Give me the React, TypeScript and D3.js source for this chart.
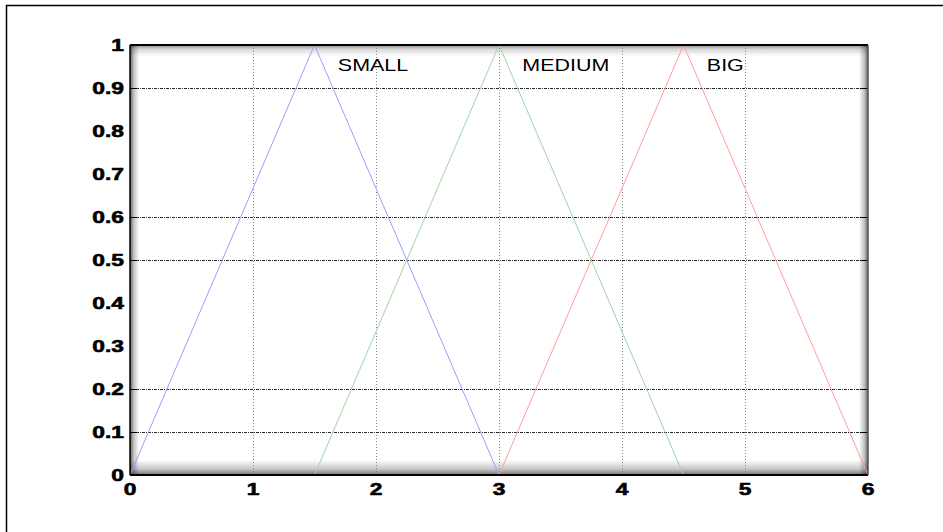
import React from "react";
import * as d3 from "d3";

// Triangular membership functions, each as [x, membership] vertices
const smallPts: [number, number][] = [[0, 0], [1.5, 1], [3, 0]];
const mediumPts: [number, number][] = [[1.5, 0], [3, 1], [4.5, 0]];
const bigPts: [number, number][] = [[3, 0], [4.5, 1], [6, 0]];

const setNames = ["SMALL", "MEDIUM", "BIG"];
const setPeaks = [1.5, 3, 4.5];

const xTicks = [0, 1, 2, 3, 4, 5, 6];
const yTicks = [0, 0.1, 0.2, 0.3, 0.4, 0.5, 0.6, 0.7, 0.8, 0.9, 1];
const yTickLabels = ["0", "0.1", "0.2", "0.3", "0.4", "0.5", "0.6", "0.7", "0.8", "0.9", "1"];
// horizontal grid lines that are drawn
const yGridLines = [0.1, 0.2, 0.5, 0.6, 0.9];
const xGridLines = [1, 2, 3, 4, 5];

const W = 943;
const H = 532;
const left = 130;
const right = 868;
const top = 45;
const bottom = 475;
const STRETCH = 1.34;

export default function App() {
  const x = d3.scaleLinear().domain([0, 6]).range([left, right]);
  const y = d3.scaleLinear().domain([0, 1]).range([bottom, top]);
  const line = d3
    .line<[number, number]>()
    .x((d) => x(d[0]))
    .y((d) => y(d[1]));

  const series = [
    { pts: smallPts, color: "#9c9cff" },
    { pts: mediumPts, color: "#a3d3a3" },
    { pts: bigPts, color: "#ff9c9c" },
  ];

  const tickFont = "'Liberation Sans', Arial, sans-serif";

  return (
    <svg
      width={W}
      height={H}
      style={{ position: "fixed", left: 0, top: 0, background: "#fff" }}
    >
      <defs>
        <linearGradient id="shL" x1="0" x2="1" y1="0" y2="0">
          <stop offset="0" stopColor="#000" stopOpacity={0.62} />
          <stop offset="0.4" stopColor="#000" stopOpacity={0.25} />
          <stop offset="1" stopColor="#000" stopOpacity={0} />
        </linearGradient>
        <linearGradient id="shR" x1="1" x2="0" y1="0" y2="0">
          <stop offset="0" stopColor="#000" stopOpacity={0.6} />
          <stop offset="0.4" stopColor="#000" stopOpacity={0.25} />
          <stop offset="1" stopColor="#000" stopOpacity={0} />
        </linearGradient>
        <linearGradient id="shT" x1="0" x2="0" y1="0" y2="1">
          <stop offset="0" stopColor="#000" stopOpacity={0.45} />
          <stop offset="0.4" stopColor="#000" stopOpacity={0.15} />
          <stop offset="1" stopColor="#000" stopOpacity={0} />
        </linearGradient>
        <linearGradient id="shB" x1="0" x2="0" y1="1" y2="0">
          <stop offset="0" stopColor="#000" stopOpacity={0.55} />
          <stop offset="0.4" stopColor="#000" stopOpacity={0.22} />
          <stop offset="1" stopColor="#000" stopOpacity={0} />
        </linearGradient>
      </defs>

      {/* outer frame */}
      <line x1={6} x2={W + 2} y1={5.5} y2={5.5} stroke="#000" strokeWidth={1.5} />
      <line x1={6.5} x2={6.5} y1={5} y2={H + 2} stroke="#000" strokeWidth={1.5} />

      {/* plot background and inner shading */}
      <rect x={left} y={top} width={right - left} height={bottom - top} fill="#fff" />
      <rect x={left} y={top} width={9} height={bottom - top} fill="url(#shL)" />
      <rect x={right - 9} y={top} width={9} height={bottom - top} fill="url(#shR)" />
      <rect x={left} y={top} width={right - left} height={11} fill="url(#shT)" />
      <rect x={left} y={bottom - 15} width={right - left} height={15} fill="url(#shB)" />

      {/* vertical grid */}
      {xGridLines.map((v) => (
        <line
          key={"vx" + v}
          x1={Math.round(x(v)) + 0.5}
          x2={Math.round(x(v)) + 0.5}
          y1={top}
          y2={bottom}
          stroke="#8a8a8a"
          strokeWidth={1}
          strokeDasharray="1,2"
        />
      ))}

      {/* horizontal grid with tick marks at both ends */}
      {yGridLines.map((v) => (
        <g key={"hy" + v}>
          <line
            x1={left}
            x2={right}
            y1={Math.round(y(v)) + 0.5}
            y2={Math.round(y(v)) + 0.5}
            stroke="#2a2a2a"
            strokeWidth={1}
            strokeDasharray="3,1,1,1"
          />
          <line
            x1={left}
            x2={left + 7}
            y1={Math.round(y(v)) + 0.5}
            y2={Math.round(y(v)) + 0.5}
            stroke="#000"
          />
          <line
            x1={right - 8}
            x2={right}
            y1={Math.round(y(v)) + 0.5}
            y2={Math.round(y(v)) + 0.5}
            stroke="#000"
          />
        </g>
      ))}

      {/* membership functions */}
      {series.map((s, i) => (
        <path key={i} d={line(s.pts) || ""} fill="none" stroke={s.color} strokeWidth={1} />
      ))}

      {/* set names */}
      {setNames.map((name, i) => {
        const tx = x(setPeaks[i] + 0.19);
        const ty = y(0.94);
        return (
          <text
            key={name}
            transform={`translate(${tx},${ty}) scale(${STRETCH},1)`}
            fontFamily={tickFont}
            fontSize={16}
            fill="#000"
          >
            {name}
          </text>
        );
      })}

      {/* plot frame */}
      <line x1={left} x2={right} y1={top} y2={top} stroke="#000" strokeWidth={2} />
      <line x1={left} x2={right} y1={bottom} y2={bottom} stroke="#000" strokeWidth={2} />
      <line x1={left} x2={left} y1={top} y2={bottom} stroke="#000" strokeWidth={1.5} />
      <line x1={right} x2={right} y1={top} y2={bottom} stroke="#555" strokeWidth={1.5} />

      {/* y tick labels */}
      {yTicks.map((v, i) => (
        <text
          key={"yl" + v}
          transform={`translate(${left - 6},${y(v) + 6}) scale(${STRETCH},1)`}
          textAnchor="end"
          fontFamily={tickFont}
          fontWeight="bold"
          fontSize={17}
          fill="#000"
          stroke="#000"
          strokeWidth={0.6}
        >
          {yTickLabels[i]}
        </text>
      ))}

      {/* x tick labels */}
      {xTicks.map((v) => (
        <text
          key={"xl" + v}
          transform={`translate(${x(v)},${bottom + 20}) scale(${STRETCH},1)`}
          textAnchor="middle"
          fontFamily={tickFont}
          fontWeight="bold"
          fontSize={17}
          fill="#000"
          stroke="#000"
          strokeWidth={0.6}
        >
          {v}
        </text>
      ))}
    </svg>
  );
}
